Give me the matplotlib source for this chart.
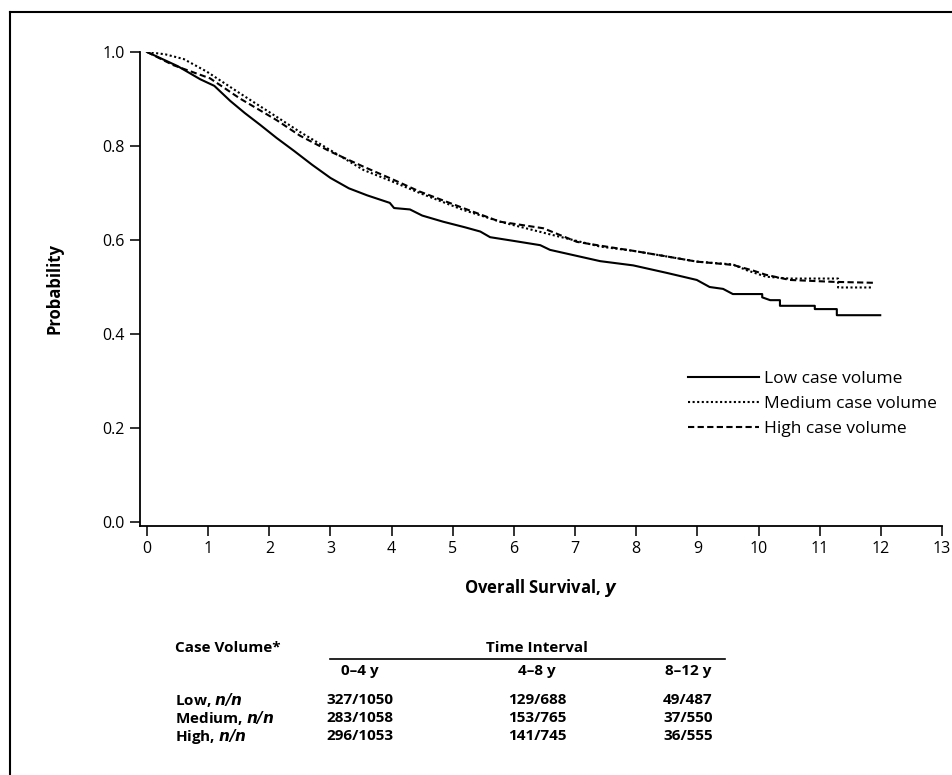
import matplotlib
matplotlib.use("Agg")
import matplotlib.pyplot as plt
from matplotlib.lines import Line2D

plt.rcParams['font.family'] = ['Open Sans', 'DejaVu Sans']

# Kaplan-Meier curves (time in years, survival probability)
low_t = [0, 0.25, 0.5, 0.87, 1.1, 1.36, 1.6, 1.85, 2.12, 2.4, 2.7, 3.0, 3.3, 3.6,
         3.97, 4.04, 4.3, 4.5, 4.84, 5.2, 5.45, 5.61, 6.0, 6.43, 6.59, 7.0, 7.41,
         7.95, 8.5, 8.99, 9.2, 9.42, 9.58, 10.06, 10.06, 10.19, 10.35, 10.35,
         10.92, 10.92, 11.28, 11.28, 11.99]
low_p = [1.0, 0.985, 0.970, 0.942, 0.928, 0.896, 0.870, 0.845, 0.817, 0.790, 0.760,
         0.732, 0.710, 0.695, 0.679, 0.668, 0.665, 0.652, 0.639, 0.627, 0.618, 0.606,
         0.598, 0.589, 0.579, 0.567, 0.555, 0.546, 0.530, 0.515, 0.500, 0.496, 0.485,
         0.485, 0.478, 0.472, 0.472, 0.460, 0.460, 0.453, 0.453, 0.440, 0.440]

med_t = [0, 0.3, 0.6, 0.98, 1.52, 2.12, 2.5, 3.0, 3.54, 4.0, 4.46, 5.17, 5.8, 6.59,
         7.03, 7.41, 7.95, 8.5, 8.99, 9.58, 9.8, 10.12, 10.5, 11.3, 11.3, 11.87]
med_p = [1.0, 0.995, 0.985, 0.958, 0.912, 0.862, 0.830, 0.791, 0.749, 0.725, 0.700,
         0.664, 0.638, 0.612, 0.598, 0.586, 0.577, 0.565, 0.554, 0.548, 0.536, 0.522,
         0.518, 0.518, 0.499, 0.499]

high_t = [0, 0.43, 1.03, 1.52, 2.12, 2.5, 3.0, 3.54, 4.0, 4.46, 5.17, 5.77, 6.48,
          7.03, 7.41, 7.95, 8.5, 8.99, 9.58, 9.91, 10.12, 10.51, 11.22, 11.87]
high_p = [1.0, 0.972, 0.944, 0.901, 0.855, 0.822, 0.788, 0.756, 0.730, 0.703, 0.668,
          0.639, 0.625, 0.596, 0.588, 0.577, 0.565, 0.554, 0.547, 0.535, 0.526, 0.515,
          0.511, 0.509]

series_labels = ["Low case volume", "Medium case volume", "High case volume"]

# events/patients table under the chart
row_labels = ["Low", "Medium", "High"]
col_labels = ["0\u20134 y", "4\u20138 y", "8\u201312 y"]
table_vals = [["327/1050", "129/688", "49/487"],
              ["283/1058", "153/765", "37/550"],
              ["296/1053", "141/745", "36/555"]]

W, H = 952, 775
fig = plt.figure(figsize=(W / 100, H / 100), dpi=100)
ax = fig.add_axes([140 / W, 1 - 526 / H, (942 - 140) / W, (526 - 52) / H])

ax.plot(low_t, low_p, color="black", lw=1.5, ls="-", label=series_labels[0])
ax.plot(med_t, med_p, color="black", lw=1.5, ls=(0, (1, 1.2)), label=series_labels[1])
ax.plot(high_t, high_p, color="black", lw=1.5, ls=(0, (3, 1.6)), label=series_labels[2])

ax.set_xlim(-0.115, 13)
ax.set_ylim(-0.0085, 1.0)
ax.set_xticks(range(0, 14))
ax.set_yticks([0.0, 0.2, 0.4, 0.6, 0.8, 1.0])
ax.set_yticklabels(["0.0", "0.2", "0.4", "0.6", "0.8", "1.0"])
for s in ["top", "right"]:
    ax.spines[s].set_visible(False)
for s in ["left", "bottom"]:
    ax.spines[s].set_linewidth(1.3)
ax.tick_params(direction="out", length=7, width=1.3, labelsize=11.5, pad=4, color="#222222")

ax.set_ylabel("Probability", fontsize=12, fontweight="bold", labelpad=28)
ax.set_xlabel("Overall Survival, $\\mathbfit{y}$", fontsize=12, fontweight="bold", labelpad=14)

leg = ax.legend(loc="upper left", bbox_to_anchor=(688 / W, 1 - 371 / H),
                bbox_transform=fig.transFigure, frameon=False, fontsize=12.5,
                handlelength=4.1, handletextpad=0.3, labelspacing=0.5,
                borderpad=0, borderaxespad=0)

# table
tkw = dict(fontsize=11, fontweight="bold", va="center")
fig.text(175 / W, 1 - 648 / H, "Case Volume*", ha="left", **tkw)
fig.text(537 / W, 1 - 648 / H, "Time Interval", ha="center", **tkw)
fig.add_artist(Line2D([330 / W, 725 / W], [1 - 659 / H, 1 - 659 / H], color="black", lw=1.2))
col_x = [360, 537, 688]
for x, c in zip(col_x, col_labels):
    fig.text(x / W, 1 - 671 / H, c, ha="center", **tkw)
row_y = [700, 718, 736]
for y, r, vals in zip(row_y, row_labels, table_vals):
    fig.text(175 / W, 1 - y / H, r + ", $\\mathbfit{n/n}$", ha="left", **tkw)
    for x, v in zip(col_x, vals):
        fig.text(x / W, 1 - y / H, v, ha="center", **tkw)

# frame lines on the top and left edge
fig.add_artist(Line2D([10 / W, 1.0], [1 - 12 / H, 1 - 12 / H], color="black", lw=1.5))
fig.add_artist(Line2D([10 / W, 10 / W], [0.0, 1 - 12 / H], color="black", lw=1.5))

fig.savefig("out.png", dpi=100)
